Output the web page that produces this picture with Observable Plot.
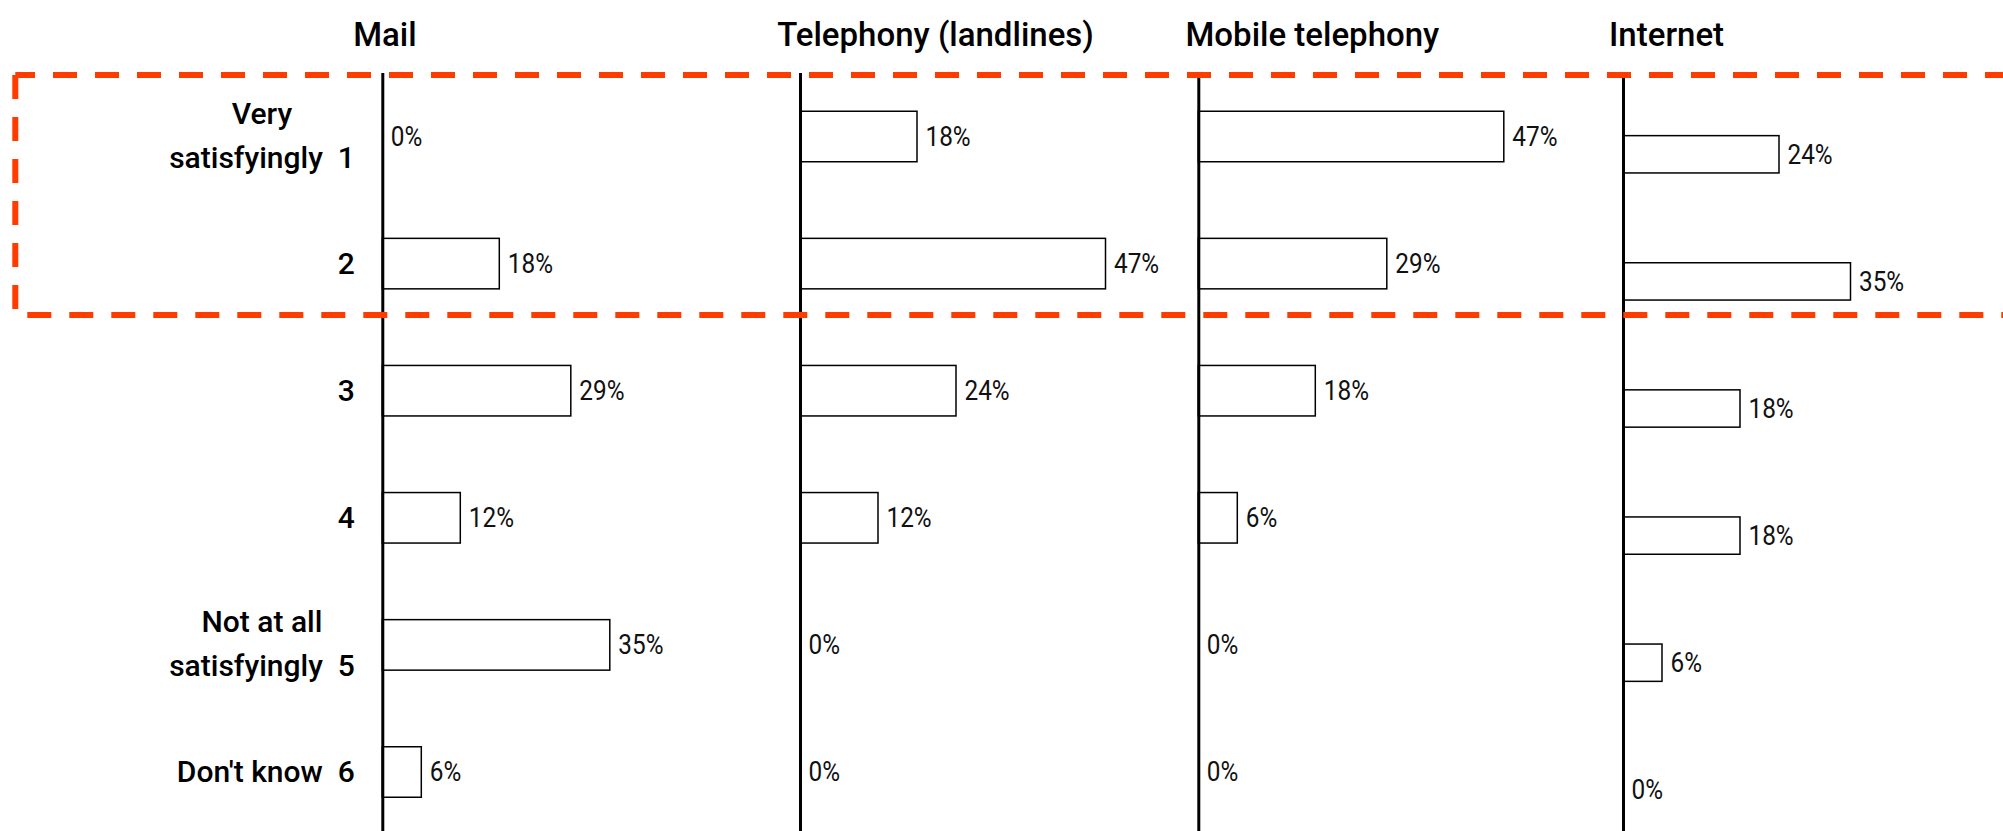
<!DOCTYPE html>
<html>
<head>
<meta charset="utf-8">
<script src="https://cdn.jsdelivr.net/npm/d3@7"></script>
<script src="https://cdn.jsdelivr.net/npm/@observablehq/plot@0.6"></script>
<style>
  html, body { margin: 0; padding: 0; background: #fff; }
  #chart { position: relative; width: 2003px; height: 831px; overflow: hidden; background: #fff; }
  #chart svg { position: absolute; left: 0; top: 0; }
</style>
</head>
<body>
<div id="chart"></div>
<script>
// ---- data ----
const services = ["Mail", "Telephony (landlines)", "Mobile telephony", "Internet"];
const ratings = ["1", "2", "3", "4", "5", "6"];
const ratingLabels = ["Very\nsatisfyingly", "", "", "", "Not at all\nsatisfyingly", "Don't know"];
const mailValues = [0, 18, 29, 12, 35, 6];
const landlineValues = [18, 47, 24, 12, 0, 0];
const mobileValues = [47, 29, 18, 6, 0, 0];
const internetValues = [24, 35, 18, 18, 6, 0];
const seriesValues = [mailValues, landlineValues, mobileValues, internetValues];

// ---- layout / style ----
const W = 2003, H = 831;
const mainY = {range: [34.65, 873.85], padding: 0.6027};
const netY = {range: [45.85, 898.25], padding: 0.7065};
const panelLayout = [
  {axisX: 382.3, titleDx: -29.6, y: mainY},
  {axisX: 800, titleDx: -23.3, y: mainY},
  {axisX: 1198.3, titleDx: -13.3, y: mainY},
  {axisX: 1623, titleDx: -14.5, y: netY}
];
const fullScalePx = 650; // pixels for 100%
const titleFont = "Roboto, 'Open Sans', sans-serif";
const labelFont = "Roboto, 'Open Sans', sans-serif";
const pctFont = "Roboto, 'Open Sans', sans-serif";
const pctCondense = 0.87;
const labelSize = 30, labelWeight = 500;
const boxColor = "#ff3c00";

// measure text for centring the first line of two-line labels
const ctx = document.createElement("canvas").getContext("2d");
ctx.font = `${labelWeight} ${labelSize}px ${labelFont}`;
const measure = s => ctx.measureText(s).width;

const labelRows = ratings.map((r, i) => {
  const lines = ratingLabels[i] ? ratingLabels[i].split("\n") : [];
  const last = lines.length ? `${lines[lines.length - 1]}\u00a0\u00a0${r}` : r;
  return {rating: r, lines, last, first: lines.length > 1 ? lines[0] : null};
});
const singleRows = labelRows.filter(d => d.lines.length <= 1);
const doubleRows = labelRows.filter(d => d.lines.length > 1);
const labelGap = 28;
const doubleLastWidth = doubleRows.length ? measure(doubleRows[0].last) : 0;

function dashedBox(index, scales, values, dims) {
  const y = scales.y;
  const bw = y.bandwidth ? y.bandwidth() : 0;
  const top = y("1") - 36.25;
  const bottom = y("2") + bw + 26.15;
  const left = 15.3, right = W + 100;
  const g = d3.create("svg:g")
    .attr("fill", "none")
    .attr("stroke", boxColor)
    .attr("stroke-width", 6)
    .attr("stroke-dasharray", "24 18");
  g.append("path").attr("d", `M${left},${top}H${right}`).attr("stroke-dashoffset", 4.3);
  g.append("path").attr("d", `M${left},${top}V${bottom}`).attr("stroke-dashoffset", 0);
  g.append("path").attr("d", `M${left},${bottom}H${right}`).attr("stroke-dashoffset", 30);
  return g.node();
}

function panel(k) {
  const lay = panelLayout[k];
  const rows = ratings.map((r, i) => ({rating: r, value: seriesValues[k][i]}));
  const marks = [
    Plot.barX(rows.filter(d => d.value > 0), {
      x: "value", y: "rating", fill: "white", stroke: "black", strokeWidth: 1.5
    }),
    Plot.ruleX([0], {stroke: "black", strokeWidth: 3}),
    Plot.text(rows, {
      x: "value", y: "rating", text: d => `${d.value}%`,
      textAnchor: "start", dx: 8, fontFamily: pctFont, fontSize: 28, fontWeight: 400, fill: "#111",
      ariaDescription: "percent labels"
    }),
    Plot.text([services[k]], {
      frameAnchor: "top-left", textAnchor: "start", lineAnchor: "bottom",
      dx: lay.titleDx, dy: -28, fontFamily: titleFont, fontSize: 33, fontWeight: 500, fill: "#000"
    })
  ];
  if (k === 0) {
    marks.push(
      Plot.text(singleRows, {
        y: "rating", text: "last", frameAnchor: "left", textAnchor: "end", dx: -labelGap,
        fontFamily: labelFont, fontSize: labelSize, fontWeight: labelWeight, fill: "#000"
      }),
      Plot.text(doubleRows, {
        y: "rating", text: "last", frameAnchor: "left", textAnchor: "end", dx: -labelGap, dy: 21.2,
        fontFamily: labelFont, fontSize: labelSize, fontWeight: labelWeight, fill: "#000"
      }),
      Plot.text(doubleRows, {
        y: "rating", text: "first", frameAnchor: "left", textAnchor: "middle",
        dx: -labelGap - doubleLastWidth / 2, dy: -22.8,
        fontFamily: labelFont, fontSize: labelSize, fontWeight: labelWeight, fill: "#000"
      }),
      dashedBox
    );
  }
  return Plot.plot({
    width: W, height: H,
    marginTop: 73, marginBottom: 0, marginLeft: lay.axisX, marginRight: 0,
    x: {domain: [0, 100], range: [lay.axisX, lay.axisX + fullScalePx], axis: null},
    y: {domain: ratings, range: lay.y.range, padding: lay.y.padding, round: false, axis: null},
    style: {background: "transparent", overflow: "visible"},
    marks
  });
}

const chart = document.getElementById("chart");
[1, 2, 3, 0].forEach(k => chart.appendChild(panel(k)));

// narrow the percentage labels (the reference uses a condensed face)
chart.querySelectorAll('g[aria-description="percent labels"] text').forEach(t => {
  const w = t.getComputedTextLength();
  if (w > 0) {
    t.setAttribute("textLength", (w * pctCondense).toFixed(1));
    t.setAttribute("lengthAdjust", "spacingAndGlyphs");
  }
});
</script>
</body>
</html>
